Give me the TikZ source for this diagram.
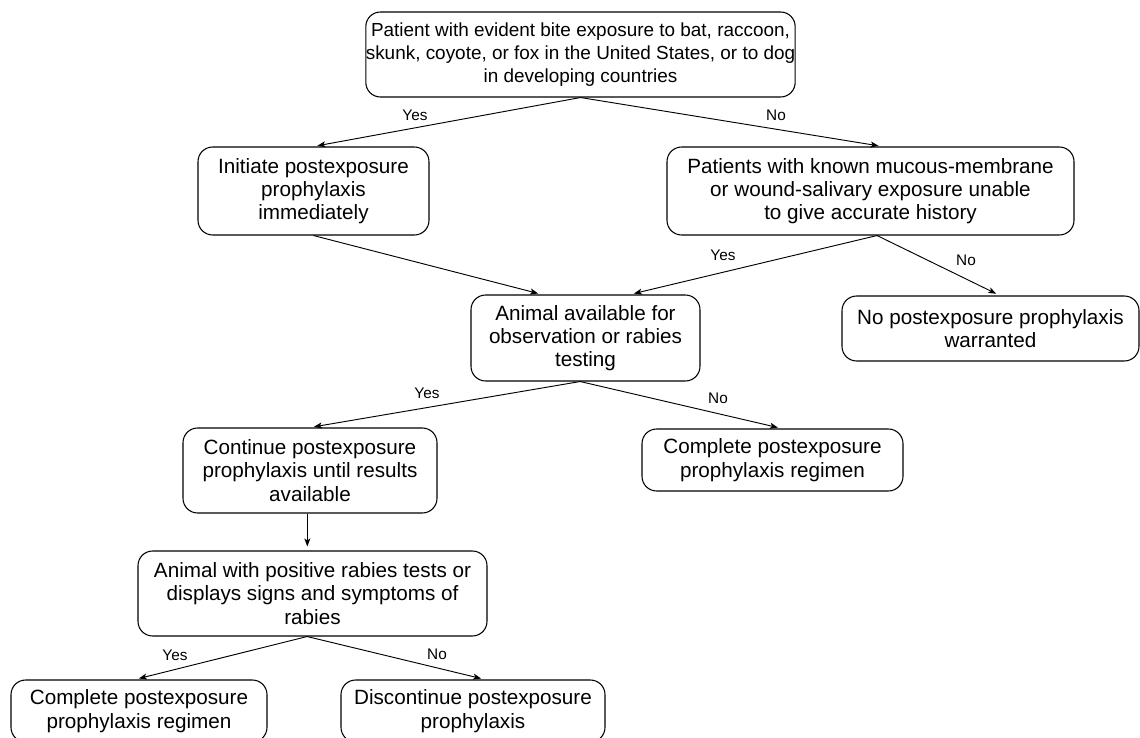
\documentclass[tikz,border=0pt]{standalone}
\usepackage{fontspec}
\setmainfont{Liberation Sans}
\usepackage{tikz}
\usetikzlibrary{arrows.meta}

\tikzset{
  box/.style={draw, line width=0.8pt, rounded corners=11pt, align=center,
    inner sep=0pt, font=\fontsize{15.5}{17.5}\selectfont},
  sz/.style 2 args={minimum width=#1*0.75pt, minimum height=#2*0.75pt},
  arr/.style={line width=0.7pt, -{Stealth[length=6pt,width=4.5pt,inset=1.5pt]}, shorten >=3pt},
  lbl/.style={inner sep=0pt, font=\fontsize{11.5}{12}\selectfont}
}

\begin{document}
\begin{tikzpicture}[x=0.75pt, y=-0.75pt]
\useasboundingbox (0,0) rectangle (1140,738);
\node[box, sz={429}{85}, font=\fontsize{14.2}{17.5}\selectfont] (patient) at (580.5,54.5) {Patient with evident bite exposure to bat, raccoon,\\ skunk, coyote, or fox in the United States, or to dog\\ in developing countries};
\node[box, sz={231}{88}] (initiate) at (313.5,191) {Initiate postexposure\\ prophylaxis\\ immediately};
\node[box, sz={407}{88}] (known) at (870.5,191) {Patients with known mucous-membrane\\ or wound-salivary exposure unable\\ to give accurate history};
\node[box, sz={229}{86}] (avail) at (585.5,338) {Animal available for\\ observation or rabies\\ testing};
\node[box, sz={297}{65}] (nopep) at (990.5,328.5) {No postexposure prophylaxis\\ warranted};
\node[box, sz={261}{62}] (completeR) at (772.5,460) {Complete postexposure\\ prophylaxis regimen};
\node[box, sz={254}{85}] (cont) at (310,470.5) {Continue postexposure\\ prophylaxis until results\\ available};
\node[box, sz={349}{85}] (positive) at (312.5,593.5) {Animal with positive rabies tests or\\ displays signs and symptoms of\\ rabies};
\node[box, sz={256}{62}] (completeL) at (139,711) {Complete postexposure\\ prophylaxis regimen};
\node[box, sz={264}{62}] (discont) at (473,711) {Discontinue postexposure\\ prophylaxis};
% connectors
\draw[arr] (patient.south) -- (initiate.north);
\draw[arr] (patient.south) -- ([xshift=9pt]known.north);
\draw[arr] (initiate.south) -- ([xshift=-32.6pt]avail.north);
\draw[arr] ([xshift=4.9pt]known.south) -- ([xshift=33.4pt]avail.north);
\draw[arr] ([xshift=4.9pt]known.south) -- ([xshift=7pt]nopep.north);
\draw[arr] ([xshift=-4pt]avail.south) -- (cont.north);
\draw[arr] ([xshift=-4pt]avail.south) -- ([xshift=7pt]completeR.north);
\draw[arr] ([xshift=-2pt]cont.south) -- ([xshift=-2pt]cont.south |- positive.north);
\draw[arr] ([xshift=-4pt]positive.south) -- ([xshift=-3pt]completeL.north);
\draw[arr] ([xshift=-4pt]positive.south) -- ([xshift=9pt]discont.north);
% labels
\node[lbl] (yes1) at (415,115) {Yes};
\node[lbl] (no1) at (776,115) {No};
\node[lbl] (yes2) at (723,255) {Yes};
\node[lbl] (no2) at (966,260) {No};
\node[lbl] (yes3) at (427,393) {Yes};
\node[lbl] (no3) at (718,398) {No};
\node[lbl] (yes4) at (175,655) {Yes};
\node[lbl] (no4) at (437,654) {No};
\end{tikzpicture}
\end{document}
